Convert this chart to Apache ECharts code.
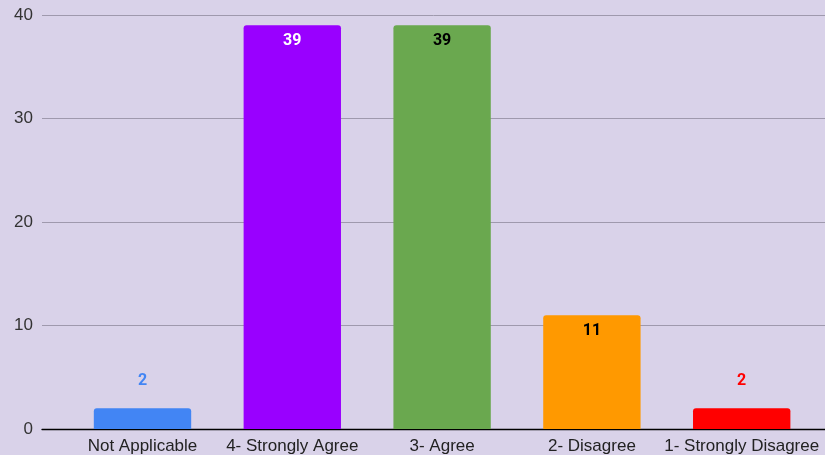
<!DOCTYPE html>
<html><head><meta charset="utf-8">
<script src="https://cdn.jsdelivr.net/npm/echarts@6/dist/echarts.min.js"></script>
<style>html,body{margin:0;padding:0;background:#d9d2e9;}#c{width:825px;height:455px;}</style>
</head><body><div id="c"></div>
<script>
const categories = ['Not Applicable', '4- Strongly Agree', '3- Agree', '2- Disagree', '1- Strongly Disagree'];
const values = [2, 39, 39, 11, 2];
const barColors = ['#4285f4', '#9900ff', '#6aa84f', '#ff9900', '#ff0000'];
const labelColors = ['#4285f4', '#ffffff', '#000000', '#000000', '#ff0000'];
const labelInside = [false, true, true, true, false];
const yTicks = [0, 10, 20, 30, 40];

const chart = echarts.init(document.getElementById('c'), null, {renderer: 'canvas'});
chart.setOption({
  backgroundColor: '#d9d2e9',
  animation: false,
  grid: [
    {left: 42, right: 0, top: 15, bottom: 26},
    {left: 67.6, right: 8.4, top: 15, bottom: 26}
  ],
  xAxis: [
    {gridIndex: 0, type: 'value', min: 0, max: 1, show: true,
     axisLine: {show: true, onZero: false, lineStyle: {color: '#000', width: 1.3}},
     axisTick: {show: false}, axisLabel: {show: false}, splitLine: {show: false}},
    {gridIndex: 1, type: 'category', data: categories,
     axisLine: {show: false}, axisTick: {show: false},
     axisLabel: {color: '#222', fontSize: 17, fontFamily: 'Liberation Sans, Arial, sans-serif', margin: 9, interval: 0}}
  ],
  yAxis: [
    {gridIndex: 0, type: 'value', min: 0, max: 40, interval: 10,
     axisLine: {show: false}, axisTick: {show: false},
     axisLabel: {color: '#333', fontSize: 17, fontFamily: 'Liberation Sans, Arial, sans-serif', margin: 9,
       formatter: v => yTicks.includes(v) ? String(v) : ''},
     splitLine: {lineStyle: {color: '#9f99ad', width: 1}}},
    {gridIndex: 1, type: 'value', min: 0, max: 40, interval: 10, show: false}
  ],
  series: [{
    type: 'bar',
    xAxisIndex: 1, yAxisIndex: 1,
    barWidth: '65%',
    data: values.map((v, i) => ({
      value: v,
      itemStyle: {color: barColors[i], borderRadius: [3, 3, 0, 0]},
      label: {
        show: true,
        position: labelInside[i] ? 'insideTop' : 'top',
        distance: labelInside[i] ? 8 : 19,
        color: labelColors[i],
        fontWeight: 'bold',
        fontSize: 16,
        fontFamily: 'Roboto, Noto Sans, sans-serif'
      }
    }))
  }]
});
</script></body></html>
